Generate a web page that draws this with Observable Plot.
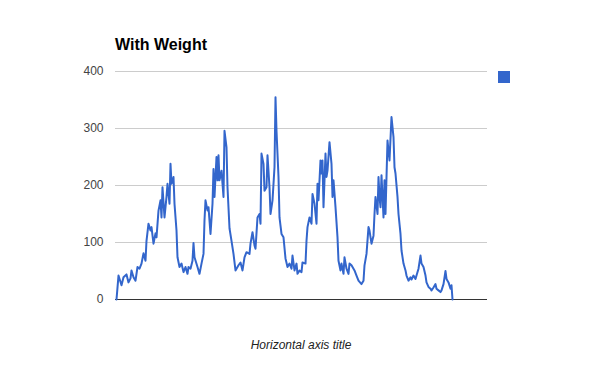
<!DOCTYPE html>
<html>
<head>
<meta charset="utf-8">
<script src="https://cdn.jsdelivr.net/npm/d3@7"></script>
<script src="https://cdn.jsdelivr.net/npm/@observablehq/plot@0.6"></script>
<style>
  html, body { margin: 0; padding: 0; background: #fff; }
  #chart { width: 600px; height: 371px; }
</style>
</head>
<body>
<div id="chart"></div>
<script>
const title = "With Weight";
const xAxisTitle = "Horizontal axis title";
const yTicks = [0, 100, 200, 300, 400];
const xDomain = [0, 372];

const days = [1,3,6,8,11,13,15,16,18,20,22,24,26,28,30,31,33,35,36,38,40,41,43,45,46,47,49,51,52,54,55,56,58,59,61,62,64,66,68,70,72,73,75,77,78,79,82,84,86,88,89,90,92,93,95,97,98,99,101,102,103,104,106,107,108,109,111,112,114,116,118,120,123,125,127,129,131,134,135,137,139,140,142,144,145,146,148,149,151,152,154,155,157,159,160,161,163,164,166,168,170,172,174,176,177,179,181,182,184,186,187,190,191,192,194,196,197,199,201,202,203,205,206,207,208,210,211,212,214,216,217,218,220,222,223,225,226,228,229,231,233,234,236,238,239,241,243,246,248,249,251,253,254,256,258,259,260,262,263,264,265,266,268,269,270,272,273,274,276,278,279,280,282,283,285,286,288,290,291,293,295,296,298,300,301,303,305,306,308,310,311,313,315,316,318,320,321,323,325,326,328,330,331,333,335,336,337];
const values = [0,42,25,39,44,30,37,51,39,33,57,54,63,81,68,103,133,121,127,98,116,109,156,174,144,197,144,180,203,168,238,203,215,168,121,74,57,63,48,57,45,57,54,68,99,74,57,45,63,80,139,174,156,162,115,168,229,180,250,209,253,209,226,203,180,296,267,197,125,103,80,51,60,65,51,74,83,80,98,118,95,89,144,150,133,256,238,191,197,253,197,150,174,232,355,296,215,144,115,109,72,57,63,54,77,51,63,45,51,48,65,63,103,127,144,133,185,168,133,203,174,244,221,244,162,256,215,226,276,238,180,209,162,109,68,51,63,45,74,54,45,63,60,54,51,42,33,27,33,60,80,127,121,98,112,150,180,150,215,180,162,218,144,209,150,279,261,244,320,285,232,221,180,150,115,86,63,51,42,33,39,35,42,36,42,54,77,63,57,42,30,22,19,16,21,27,19,16,13,16,27,50,36,30,19,25,0];

const data = days.map((d, i) => ({day: d, value: values[i]}));

const font = "'Liberation Sans', Arial, sans-serif";

const chart = Plot.plot({
  width: 600,
  height: 371,
  marginLeft: 115,
  marginRight: 113,
  marginTop: 71,
  marginBottom: 72,
  style: {fontFamily: font, fontSize: "12px", background: "#fff", overflow: "visible"},
  x: {domain: xDomain, axis: null},
  y: {domain: [0, 400], axis: null},
  marks: [
    Plot.gridY(yTicks, {stroke: "#cccccc", strokeOpacity: 1}),
    Plot.axisY(yTicks, {tickSize: 0, tickPadding: 12, fill: "#444444", fontSize: 12, label: null}),
    Plot.ruleY([0], {stroke: "#333333", strokeWidth: 1}),
    Plot.line(data, {x: "day", y: "value", stroke: "#3366cc", strokeWidth: 2})
  ]
});

const svg = d3.select(chart);
svg.append("text")
  .attr("x", 115).attr("y", 50)
  .attr("text-anchor", "start")
  .attr("font-family", font).attr("font-size", 16).attr("font-weight", "bold")
  .attr("fill", "#000").text(title);
svg.append("text")
  .attr("x", 301).attr("y", 349)
  .attr("text-anchor", "middle")
  .attr("font-family", font).attr("font-size", 12).attr("font-style", "italic")
  .attr("fill", "#222").text(xAxisTitle);
svg.append("rect")
  .attr("x", 498).attr("y", 71).attr("width", 12).attr("height", 12)
  .attr("fill", "#3366cc");

document.getElementById("chart").appendChild(chart);
</script>
</body>
</html>
